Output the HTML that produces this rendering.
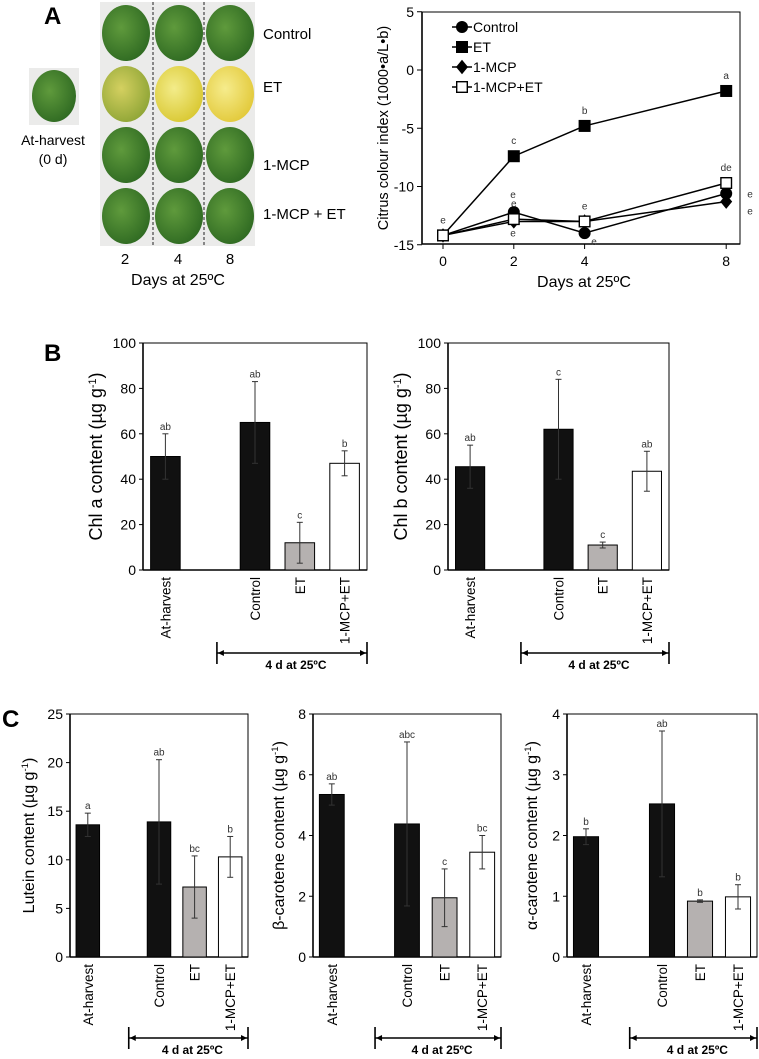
<!DOCTYPE html>
<html><head><meta charset="utf-8"><style>
html,body{margin:0;padding:0;background:#fff}
svg{display:block;font-family:"Liberation Sans",Arial,sans-serif}
</style></head><body>
<svg id="fig" width="759" height="1059" viewBox="0 0 759 1059" xmlns="http://www.w3.org/2000/svg">
<defs>
<radialGradient id="gG" cx="40%" cy="40%" r="65%"><stop offset="0" stop-color="#5f9a3c"/><stop offset="1" stop-color="#2f6a22"/></radialGradient>
<radialGradient id="gY1" cx="40%" cy="40%" r="65%"><stop offset="0" stop-color="#d4d060"/><stop offset="1" stop-color="#8fa536"/></radialGradient>
<radialGradient id="gY2" cx="40%" cy="40%" r="65%"><stop offset="0" stop-color="#f3ec8a"/><stop offset="1" stop-color="#d9c832"/></radialGradient>
<radialGradient id="gY3" cx="40%" cy="40%" r="65%"><stop offset="0" stop-color="#f6ec8c"/><stop offset="1" stop-color="#e2c93a"/></radialGradient>
</defs>
<g id="panelA">
<text x="44" y="24" font-size="24" font-weight="bold">A</text>
<g id="photos"></g>
<text x="53" y="145" font-size="14" text-anchor="middle">At-harvest</text>
<text x="53" y="164" font-size="14" text-anchor="middle">(0 d)</text>
<text x="263" y="39" font-size="15">Control</text>
<text x="263" y="92" font-size="15">ET</text>
<text x="263" y="170" font-size="15">1-MCP</text>
<text x="263" y="219" font-size="15">1-MCP + ET</text>
<text x="125" y="264" font-size="15" text-anchor="middle">2</text>
<text x="178" y="264" font-size="15" text-anchor="middle">4</text>
<text x="230" y="264" font-size="15" text-anchor="middle">8</text>
<text x="178" y="285" font-size="16" text-anchor="middle">Days at 25ºC</text>
</g>
<g id="line"></g>
<text x="44" y="361" font-size="24" font-weight="bold">B</text>
<text x="2" y="727" font-size="24" font-weight="bold">C</text>
<g id="bars"></g>
</svg>
<script>
const NS="http://www.w3.org/2000/svg";
function mk(parent,tag,attrs,txt){const e=document.createElementNS(NS,tag);for(const k in attrs)e.setAttribute(k,attrs[k]);if(txt!==undefined)e.textContent=txt;parent.appendChild(e);return e;}

// ---- photo grid ----
const photos=document.getElementById('photos');
const photoFills=[["gG","gG","gG"],["gY1","gY2","gY3"],["gG","gG","gG"],["gG","gG","gG"]];
const rowY=[2,63,124,185];
const colX=[100,153,204];
for(let r=0;r<4;r++)for(let c=0;c<3;c++){
  const bg=mk(photos,'rect',{x:colX[c],y:rowY[r],width:c==0?53:51,height:61,fill:'#ebebea'});
  
  
  const el=mk(photos,'ellipse',{cx:colX[c]+26,cy:rowY[r]+31,rx:24,ry:28,fill:'url(#'+photoFills[r][c]+')'});
  
  
}
mk(photos,'line',{x1:153,y1:2,x2:153,y2:247,stroke:'#222','stroke-dasharray':'3,2','stroke-width':1});
mk(photos,'line',{x1:204,y1:2,x2:204,y2:247,stroke:'#222','stroke-dasharray':'3,2','stroke-width':1});
mk(photos,'rect',{x:29,y:68,width:50,height:57,fill:'#ebebea'});
const hl=mk(photos,'ellipse',{cx:54,cy:96,rx:22,ry:26,fill:'url(#gG)'});



// ---- line chart data ----
const days=[0,2,4,8];
const controlCCI=[-14.2,-12.2,-14.0,-10.6];
const etCCI=[-14.2,-7.4,-4.8,-1.8];
const mcpCCI=[-14.2,-13.0,-13.0,-11.3];
const mcpEtCCI=[-14.2,-12.8,-13.0,-9.7];
const lineYTicks=[5,0,-5,-10,-15];
const lineXTicks=[0,2,4,8];
const etLetters=["","c","b","a"];
const mcpEtLetters=["","e","e","de"];

(function(){
  const g=document.getElementById('line');
  const X=d=>443+d*35.4, Y=v=>70-v*11.65;
  mk(g,'rect',{x:422,y:12,width:318,height:232,fill:'none',stroke:'#000','stroke-width':1});
  mk(g,'line',{x1:422,y1:12,x2:422,y2:244,stroke:'#000','stroke-width':1.6});
  mk(g,'line',{x1:422,y1:244,x2:740,y2:244,stroke:'#000','stroke-width':1.6});
  lineYTicks.forEach(t=>{mk(g,'line',{x1:417,y1:Y(t),x2:422,y2:Y(t),stroke:'#000'});
    const tl=mk(g,'text',{x:414,y:Y(t)+5,'font-size':14,'text-anchor':'end'},String(t));
    
    });
  lineXTicks.forEach(t=>{mk(g,'line',{x1:X(t),y1:244,x2:X(t),y2:249,stroke:'#000'});
    const tl=mk(g,'text',{x:X(t),y:266,'font-size':14,'text-anchor':'middle'},String(t));
    
    });
  const xt=mk(g,'text',{x:584,y:287,'font-size':16,'text-anchor':'middle'},'Days at 25ºC');
  
  
  const yt=mk(g,'text',{x:0,y:0,'font-size':14.5,'text-anchor':'middle',transform:'translate(388,128) rotate(-90)'},'Citrus colour index (1000•a/L•b)');
  
  
  function marker(p,type,x,y,s){
    if(type=='circle')return mk(p,'circle',{cx:x,cy:y,r:s,fill:'#000'});
    if(type=='square')return mk(p,'rect',{x:x-s,y:y-s,width:2*s,height:2*s,fill:'#000'});
    if(type=='diamond')return mk(p,'polygon',{points:`${x},${y-s*1.2} ${x+s},${y} ${x},${y+s*1.2} ${x-s},${y}`,fill:'#000'});
    return mk(p,'rect',{x:x-s+0.7,y:y-s+0.7,width:2*s-1.4,height:2*s-1.4,fill:'#fff',stroke:'#000','stroke-width':1.4});
  }
  const series=[[controlCCI,'circle','Control','series-control'],[etCCI,'square','ET','series-et'],[mcpCCI,'diamond','1-MCP','series-1mcp'],[mcpEtCCI,'open','1-MCP+ET','series-1mcp-et']];
  series.forEach(([vals,type,name,dn])=>{
    const sg=mk(g,'g',{});
    
    
    mk(sg,'polyline',{points:days.map((d,i)=>X(d)+','+Y(vals[i])).join(' '),fill:'none',stroke:'#000','stroke-width':1.5});
    days.forEach((d,i)=>{const m=marker(sg,type,X(d),Y(vals[i]),6);
      
      });
  });
  const ann=(arr,vals,dy)=>days.forEach((d,i)=>{if(arr[i]){const t=mk(g,'text',{x:X(d),y:Y(vals[i])+dy,'font-size':10,'text-anchor':'middle',fill:'#333'},arr[i]);
    
    }});
  ann(etLetters,etCCI,-12);
  ann(mcpEtLetters,mcpEtCCI,-12);
  const tx=[[443,-12],[513,-14],[513,15],[594,12],[750,4],[750,13]];
  const miscY=[controlCCI[0],controlCCI[1],mcpCCI[1],controlCCI[2],controlCCI[3],mcpCCI[3]];
  tx.forEach((p,i)=>{const t=mk(g,'text',{x:p[0],y:Y(miscY[i])+p[1],'font-size':10,'text-anchor':'middle',fill:'#333'},'e');
    
    });
  series.forEach(([vals,type,name,dn],i)=>{
    const ly=27+i*20;
    const lg=mk(g,'g',{});
    
    
    mk(lg,'line',{x1:452,y1:ly,x2:472,y2:ly,stroke:'#000','stroke-width':1.5});
    marker(lg,type,462,ly,6);
    mk(lg,'text',{x:473,y:ly+5,'font-size':14},name);
  });
})();

// ---- bar charts data ----
const barCats=["At-harvest","Control","ET","1-MCP+ET"];
const chlA=[50,65,12,47];
const chlAErr=[10,18,9,5.5];
const chlALet=["ab","ab","c","b"];
const chlB=[45.5,62,11,43.5];
const chlBErr=[9.5,22,1.3,8.8];
const chlBLet=["ab","c","c","ab"];
const lutein=[13.6,13.9,7.2,10.3];
const luteinErr=[1.2,6.4,3.2,2.1];
const luteinLet=["a","ab","bc","b"];
const bCar=[5.35,4.38,1.95,3.45];
const bCarErr=[0.35,2.7,0.95,0.55];
const bCarLet=["ab","abc","c","bc"];
const aCar=[1.98,2.52,0.92,0.99];
const aCarErr=[0.13,1.2,0.02,0.2];
const aCarLet=["b","ab","b","b"];
const ticksChl=[0,20,40,60,80,100];
const ticksLut=[0,5,10,15,20,25];
const ticksBCar=[0,2,4,6,8];
const ticksACar=[0,1,2,3,4];

function barChart(o){
  const g=mk(document.getElementById('bars'),'g',{});
  
  
  const W=o.x1-o.x0, slot=W/5, bw=slot*0.66, max=o.ticks[o.ticks.length-1];
  const Y=v=>o.y1-(v/max)*(o.y1-o.y0);
  const slots=[0,2,3,4];
  mk(g,'rect',{x:o.x0,y:o.y0,width:W,height:o.y1-o.y0,fill:'none',stroke:'#000','stroke-width':1});
  mk(g,'line',{x1:o.x0,y1:o.y0,x2:o.x0,y2:o.y1,stroke:'#000','stroke-width':1.6});
  mk(g,'line',{x1:o.x0,y1:o.y1,x2:o.x1,y2:o.y1,stroke:'#000','stroke-width':1.6});
  o.ticks.forEach(t=>{mk(g,'line',{x1:o.x0-4,y1:Y(t),x2:o.x0,y2:Y(t),stroke:'#000'});
    const tl=mk(g,'text',{x:o.x0-7,y:Y(t)+5,'font-size':14,'text-anchor':'end'},String(t));
    
    });
  const fills=['#111','#111','#b5b1b0','#fff'];
  o.vals.forEach((v,i)=>{
    const cx=o.x0+slot*(slots[i]+0.5);
    const b=mk(g,'rect',{x:cx-bw/2,y:Y(v),width:bw,height:o.y1-Y(v),fill:fills[i],stroke:'#000','stroke-width':1});
    
    
    const e=o.err[i];
    mk(g,'line',{x1:cx,y1:Y(v+e),x2:cx,y2:Y(v-e),stroke:'#333','stroke-width':1});
    mk(g,'line',{x1:cx-3,y1:Y(v+e),x2:cx+3,y2:Y(v+e),stroke:'#333','stroke-width':1});
    mk(g,'line',{x1:cx-3,y1:Y(v-e),x2:cx+3,y2:Y(v-e),stroke:'#333','stroke-width':1});
    const lt=mk(g,'text',{x:cx,y:Y(v+e)-4,'font-size':10,'text-anchor':'middle',fill:'#333'},o.lets[i]);
    
    
    const cl=mk(g,'text',{x:0,y:0,'font-size':13.5,'text-anchor':'end',transform:`translate(${cx+5},${o.y1+7}) rotate(-90)`},barCats[i]);
    
    
  });
  const yt=mk(g,'text',{x:0,y:0,'font-size':o.fs,'text-anchor':'middle',transform:`translate(${o.tx},${(o.y0+o.y1)/2}) rotate(-90)`});
  
  
  yt.innerHTML=o.title+' (µg g<tspan dy="-6" font-size="'+(o.fs*0.6)+'">-1</tspan><tspan dy="6">)</tspan>';
  const bx0=o.x0+slot*1.65, bx1=o.x1, by=o.by;
  const br=mk(g,'g',{});
  
  
  mk(br,'line',{x1:bx0,y1:by-11,x2:bx0,y2:by+11,stroke:'#000','stroke-width':1.6});
  mk(br,'line',{x1:bx1,y1:by-11,x2:bx1,y2:by+11,stroke:'#000','stroke-width':1.6});
  mk(br,'line',{x1:bx0,y1:by,x2:bx1,y2:by,stroke:'#000','stroke-width':1.4});
  mk(br,'polygon',{points:`${bx0+1},${by} ${bx0+7},${by-3} ${bx0+7},${by+3}`,fill:'#000'});
  mk(br,'polygon',{points:`${bx1-1},${by} ${bx1-7},${by-3} ${bx1-7},${by+3}`,fill:'#000'});
  mk(br,'text',{x:(bx0+bx1)/2+4,y:by+o.ly,'font-size':12,'font-weight':'bold','text-anchor':'middle'},'4 d at 25ºC');
}
barChart({name:'chl-a-chart',x0:143,x1:367,y0:343,y1:570,ticks:ticksChl,vals:chlA,err:chlAErr,lets:chlALet,title:'Chl a content',fs:18,tx:102,by:653,ly:16});
barChart({name:'chl-b-chart',x0:448,x1:669,y0:343,y1:570,ticks:ticksChl,vals:chlB,err:chlBErr,lets:chlBLet,title:'Chl b content',fs:18,tx:407,by:653,ly:16});
barChart({name:'lutein-chart',x0:70,x1:248,y0:714,y1:957,ticks:ticksLut,vals:lutein,err:luteinErr,lets:luteinLet,title:'Lutein content',fs:16,tx:34,by:1038,ly:16});
barChart({name:'beta-carotene-chart',x0:313,x1:501,y0:714,y1:957,ticks:ticksBCar,vals:bCar,err:bCarErr,lets:bCarLet,title:'β-carotene content',fs:16,tx:284,by:1038,ly:16});
barChart({name:'alpha-carotene-chart',x0:567,x1:757,y0:714,y1:957,ticks:ticksACar,vals:aCar,err:aCarErr,lets:aCarLet,title:'α-carotene content',fs:16,tx:537,by:1038,ly:16});
</script>
</body></html>
